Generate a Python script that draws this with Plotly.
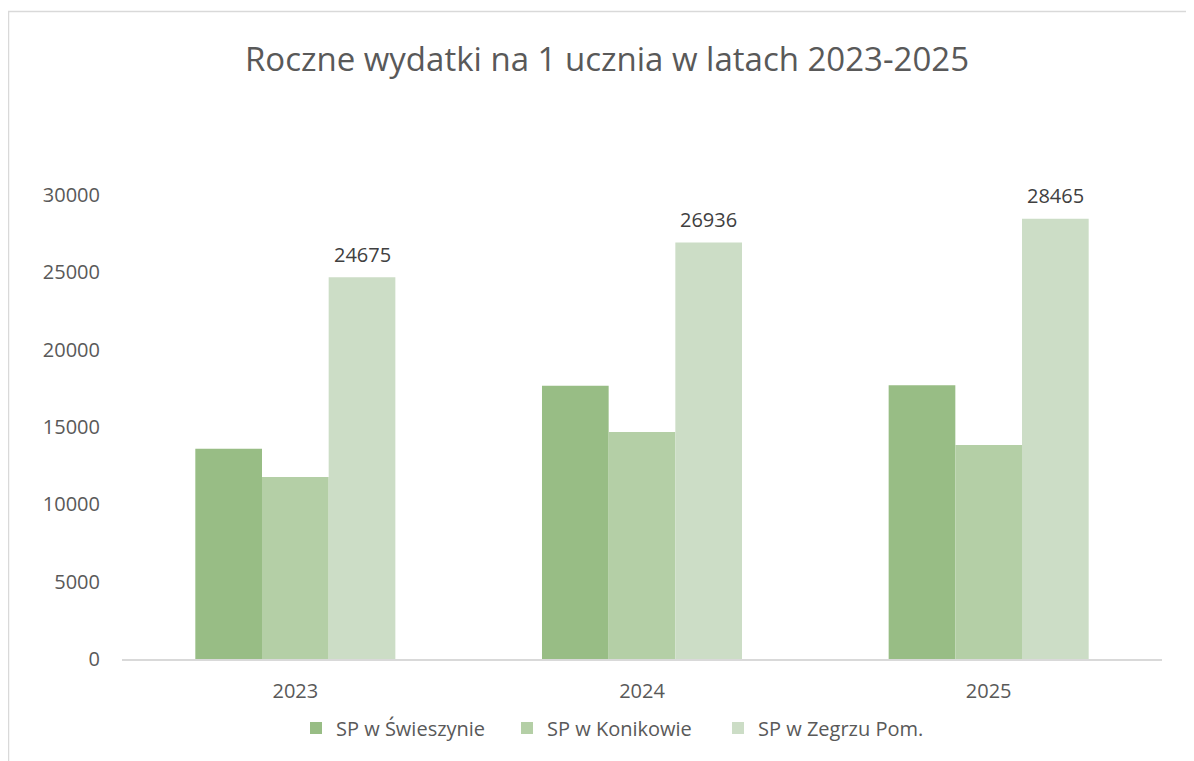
import plotly.graph_objects as go

years = ["2023", "2024", "2025"]
series_names = ["SP w Świeszynie", "SP w Konikowie", "SP w Zegrzu Pom."]
swieszyno = [13600, 17670, 17700]
konikowo = [11770, 14680, 13840]
zegrze = [24675, 26936, 28465]
colors = ["#98BD85", "#B4CFA6", "#CCDDC6"]
yticks = [0, 5000, 10000, 15000, 20000, 25000, 30000]

# page body has an 8px margin; figure sized so it fills the window
OFF = 8
W, H = 1194 - OFF, 761 - OFF
L, R, T, B = 114, 32, 187, 102
pw, ph = W - L - R, H - T - B
BARGAP = 0.423


def px_x(x):  # screenshot x -> paper
    return (x - OFF - L) / pw


def px_y(y):  # screenshot y -> paper
    return (H - B - (y - OFF)) / ph


font_fam = "Open Sans"
txt_col = "#595959"

fig = go.Figure()
for name, vals, col in zip(series_names, [swieszyno, konikowo, zegrze], colors):
    fig.add_trace(go.Bar(name=name, x=years, y=vals, marker_color=col, marker_line_width=0))

# data labels for the last series
n_series = len(series_names)
bar_w = (1 - BARGAP) / n_series
for i, v in enumerate(zegrze):
    fig.add_annotation(x=i + bar_w, y=v, xref="x", yref="y", text=str(v), showarrow=False,
                       yanchor="middle", yshift=23,
                       font=dict(size=20, color="#404040", family=font_fam))

fig.update_layout(
    width=W, height=H,
    margin=dict(l=L, r=R, t=T, b=B, autoexpand=False),
    paper_bgcolor="white", plot_bgcolor="white",
    barmode="group", bargap=BARGAP, bargroupgap=0,
    font=dict(family=font_fam, color=txt_col, size=20),
    title=dict(text="Roczne wydatki na 1 ucznia w latach 2023-2025",
               x=(607 - OFF) / W, xanchor="center", y=1 - (59 - OFF) / H, yanchor="middle",
               font=dict(size=33, color=txt_col, family=font_fam)),
    xaxis=dict(showgrid=False, showline=True, linecolor="#D9D9D9", linewidth=1.5,
               ticks="", tickfont=dict(size=20, color=txt_col), ticklabelstandoff=13),
    yaxis=dict(range=[0, 30000], tickvals=yticks, ticktext=[str(v) for v in yticks],
               showgrid=False, zeroline=False, showline=False, ticks="",
               tickfont=dict(size=20, color=txt_col), ticklabelstandoff=21),
    legend=dict(orientation="h", x=px_x(296), xanchor="left", y=px_y(728), yanchor="middle",
                font=dict(size=20, color=txt_col), itemwidth=30, traceorder="normal",
                entrywidth=166, entrywidthmode="pixels"),
    showlegend=True,
)

fig.add_shape(type="rect", xref="paper", yref="paper",
              x0=px_x(8.5), x1=px_x(1240), y0=px_y(820), y1=px_y(11.5),
              line=dict(color="#D9D9D9", width=1.5), fillcolor="rgba(0,0,0,0)", layer="below")

fig.write_html("out.html")
